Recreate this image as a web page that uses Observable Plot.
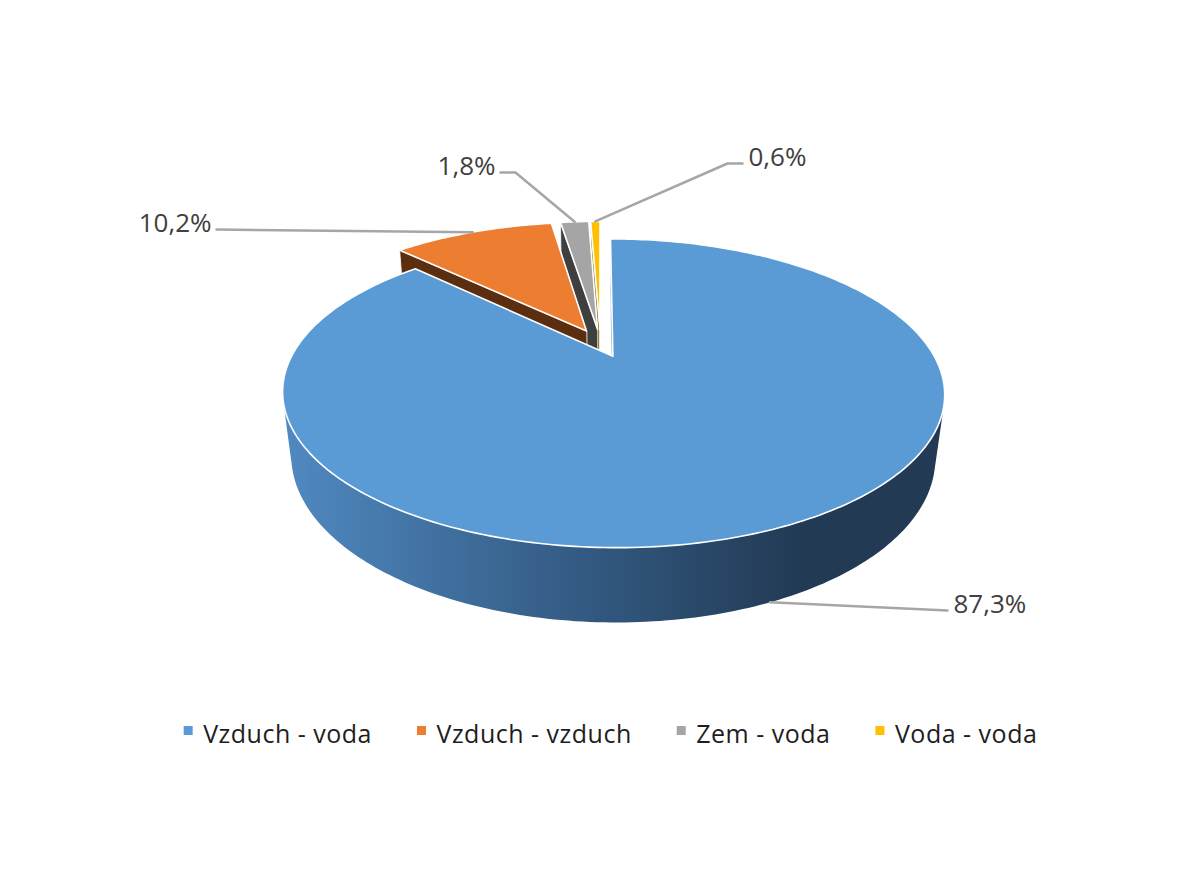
<!DOCTYPE html>
<html><head><meta charset="utf-8">
<script src="https://cdn.jsdelivr.net/npm/d3@7"></script>
<script src="https://cdn.jsdelivr.net/npm/@observablehq/plot@0.6"></script>
<style>
html,body{margin:0;padding:0;background:#fff;}
#chart svg{display:block;}
</style>
</head><body><div id="chart"></div>
<script>
// ---- data ----
const categories = ["Vzduch - voda", "Vzduch - vzduch", "Zem - voda", "Voda - voda"];
const values = [87.3, 10.2, 1.8, 0.6];
// ---- styles ----
const sliceColors = ["#5B9BD5", "#ED7D31", "#A5A5A5", "#FFC000"];
const cutColors = ["#2E5073", "#5C2E10", "#3F3F3F", "#7F6000"];
// ---- layout ----
const W = 1200, H = 869;
const CAM = {cx: 600, cy: 342.6, d: 3.82, f: 1201, sin: 0.443, cos: 0.8965};
const THICK = 0.223, EXPLODE = 0.1;
const labelLayout = [
  {x: 953, y: 612, anchor: "start"},
  {x: 211, y: 231, anchor: "end"},
  {x: 495, y: 174, anchor: "end"},
  {x: 748, y: 165, anchor: "start"}
];
const legendCX = 610, legendBaseline = 742, legendFontSize = 25, legendSpacing = 0.5;

function proj(X, Y, Z) {
  const dep = CAM.d + Y * CAM.cos - Z * CAM.sin;
  return [CAM.cx + CAM.f * X / dep, CAM.cy - CAM.f * (Y * CAM.sin + Z * CAM.cos) / dep];
}
const camPos = [0, -CAM.d * CAM.cos, CAM.d * CAM.sin];
const depthOf = (X, Y, Z) => CAM.d + Y * CAM.cos - Z * CAM.sin;

const rows = categories.map((c, i) => ({category: c, value: values[i], i}));
const arcs = d3.pie().sort(null).value(d => d.value)(rows);

const slices = arcs.map(a => {
  const i = a.data.i, a0 = a.startAngle, a1 = a.endAngle, m = (a0 + a1) / 2;
  const ox = EXPLODE * Math.sin(m), oy = EXPLODE * Math.cos(m);
  const rim = (t, z) => [ox + Math.sin(t), oy + Math.cos(t), z];
  const n = Math.max(2, Math.ceil((a1 - a0) / (Math.PI / 180)));
  const angles = d3.range(n + 1).map(k => a0 + (a1 - a0) * k / n);
  const sides = [];
  // cut faces
  [[a0, a0 - Math.PI / 2], [a1, a1 + Math.PI / 2]].forEach(([t, na]) => {
    const nv = [Math.sin(na), Math.cos(na)];
    const vis = nv[0] * (camPos[0] - ox) + nv[1] * (camPos[1] - oy) > 0;
    if (!vis) return;
    const pts = [[ox, oy, 0], rim(t, 0), rim(t, -THICK), [ox, oy, -THICK]];
    const c = rim(t, -THICK / 2);
    sides.push({pts: pts.map(p => proj(...p)), fill: cutColors[i], stroke: "#ffffff", sw: 0.8,
      depth: depthOf((ox + c[0]) / 2, (oy + c[1]) / 2, c[2])});
  });
  // outer wall: visible angles joined into one band
  const visA = angles.filter(t => {
    const P = rim(t, 0);
    return Math.sin(t) * (camPos[0] - P[0]) + Math.cos(t) * (camPos[1] - P[1]) > 0;
  });
  let wall = null;
  if (visA.length > 1) {
    const pts = [...visA.map(t => rim(t, 0)), ...visA.slice().reverse().map(t => rim(t, -THICK))].map(p => proj(...p));
    const P = rim(visA[Math.floor(visA.length / 2)], -THICK / 2);
    wall = {pts, i, depth: depthOf(...P)};
  }
  const top = {pts: [[ox, oy, 0], ...angles.map(t => rim(t, 0))].map(p => proj(...p)),
    fill: sliceColors[i], stroke: "#ffffff", sw: 1.6};
  return {i, m, ox, oy, rim, sides, wall, top};
});

// drawing order: back (small slices) to front (blue)
const order = [3, 2, 1, 0];
const backPolys = [], frontSides = [], frontTop = [];
order.forEach(i => {
  const s = slices[i];
  if (i !== 0) {
    if (s.wall) backPolys.push({pts: s.wall.pts, fill: d3.color(sliceColors[i]).darker(1.2).formatHex(), stroke: "none", sw: 0});
    backPolys.push(...s.sides, s.top);
  } else {
    frontSides.push(...s.sides);
    frontTop.push(s.top);
  }
});
const toPoints = list => list.flatMap((p, k) => p.pts.map(([x, y]) => ({x, y, g: k, fill: p.fill, stroke: p.stroke, sw: p.sw})));
const backPoints = toPoints(backPolys);
const frontSidePoints = toPoints(frontSides);
const blueWallPoints = slices[0].wall.pts.map(([x, y]) => ({x, y}));
const frontTopPoints = toPoints(frontTop);

// labels & leader lines
const fmt = v => d3.format(".1f")(v).replace(".", ",") + "%";
const labels = slices.map(s => ({...labelLayout[s.i], text: fmt(values[s.i])}));
const leaderPts = [];
slices.forEach(s => {
  const L = labelLayout[s.i];
  const start = s.i === 0 ? proj(...s.rim(s.m, -THICK)) : proj(...s.rim(s.m, 0));
  const end = [L.anchor === "start" ? L.x - 6 : L.x + 5, L.y - 2];
  const pts = [start];
  const dx = end[0] - start[0], dy = end[1] - start[1];
  if (Math.abs(dy) > Math.abs(dx) * 0.3) pts.push([end[0] + Math.sign(-dx) * 15, end[1]]);
  pts.push(end);
  pts.forEach(([x, y]) => leaderPts.push({x, y, g: s.i}));
});

// legend layout
const ctx = document.createElement("canvas").getContext("2d");
ctx.font = `${legendFontSize}px 'Open Sans'`;
const legendW = categories.map(c => ctx.measureText(c).width + legendSpacing * (c.length - 1));
const sqGap = 19, itemGap = 46, sq = 9;
const total = d3.sum(legendW) + categories.length * sqGap + (categories.length - 1) * itemGap;
let lx = legendCX - total / 2;
const legendItems = categories.map((c, i) => {
  const it = {category: c, color: sliceColors[i], x: lx, tx: lx + sqGap};
  lx += sqGap + legendW[i] + itemGap;
  return it;
});

const lineOpts = {x: "x", y: "y", z: "g", fill: "fill", stroke: "stroke", strokeWidth: "sw", curve: "linear-closed", strokeLinejoin: "round"};
const labelFont = {fontSize: 26, fontFamily: "'Open Sans', sans-serif", fill: "#404040", lineAnchor: "bottom"};
const chart = Plot.plot({
  width: W, height: H, margin: 0,
  x: {domain: [0, W], range: [0, W], axis: null},
  y: {domain: [0, H], range: [0, H], axis: null},
  color: {type: "identity"},
  style: {background: "#fff"},
  marks: [
    Plot.line(backPoints, lineOpts),
    Plot.line(blueWallPoints, {x: "x", y: "y", fill: "url(#blueWall)", stroke: "none", curve: "linear-closed"}),
    Plot.line(frontSidePoints, lineOpts),
    Plot.line(frontTopPoints, lineOpts),
    Plot.line(leaderPts, {x: "x", y: "y", z: "g", stroke: "#A6A6A6", strokeWidth: 2.5}),
    Plot.text(labels.filter(d => d.anchor === "start"), {x: "x", y: "y", text: "text", textAnchor: "start", ...labelFont}),
    Plot.text(labels.filter(d => d.anchor === "end"), {x: "x", y: "y", text: "text", textAnchor: "end", ...labelFont}),
    Plot.rect(legendItems, {x1: "x", x2: d => d.x + sq, y1: legendBaseline - 12 - sq / 2 + 0.5, y2: legendBaseline - 12 + sq / 2 + 0.5, fill: "color"}),
    Plot.text(legendItems, {x: "tx", y: legendBaseline, text: "category", textAnchor: "start", lineAnchor: "bottom", fill: "#1e1e1e", fontSize: legendFontSize, fontFamily: "'Open Sans', sans-serif"})
  ]
});
// gradient for the blue side wall
const defs = d3.select(chart).insert("defs", ":first-child");
const grad = defs.append("linearGradient").attr("id", "blueWall")
  .attr("gradientUnits", "userSpaceOnUse").attr("x1", 283).attr("x2", 800).attr("y1", 0).attr("y2", 0);
grad.append("stop").attr("offset", 0).attr("stop-color", "#5089C1");
grad.append("stop").attr("offset", 0.55).attr("stop-color", "#345C85");
grad.append("stop").attr("offset", 1).attr("stop-color", "#223A54");
d3.select(chart).selectAll("text").filter(function() { return categories.includes(this.textContent); })
  .style("letter-spacing", legendSpacing + "px");
document.getElementById("chart").appendChild(chart);
</script></body></html>
